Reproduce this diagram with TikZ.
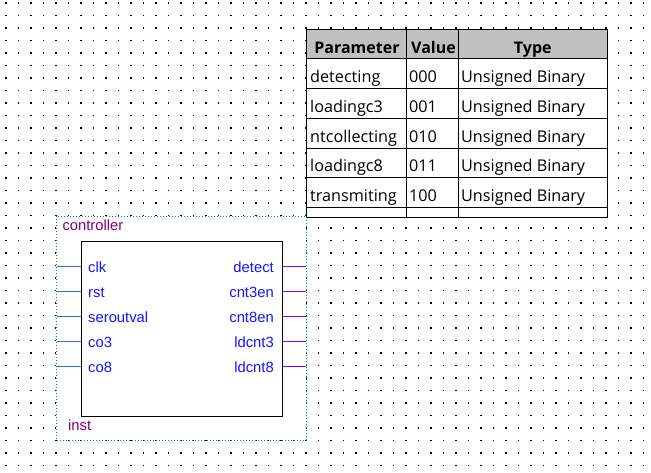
\documentclass[tikz,border=0pt]{standalone}
\usepackage{fontspec}
\setmainfont{Open Sans}
\newfontfamily\pinfont{Liberation Sans}
\usetikzlibrary{calc}
\definecolor{frameteal}{RGB}{0,128,128}
\definecolor{pinblue}{RGB}{30,120,220}
\definecolor{pinpurple}{RGB}{128,0,255}
\definecolor{labelblue}{RGB}{20,20,255}
\definecolor{instpurple}{RGB}{128,0,128}
\definecolor{headgray}{RGB}{192,192,192}
\tikzset{
	cell/.style={anchor=base west,inner sep=0pt,font=\fontsize{16.2}{19}\selectfont},
	headcell/.style={anchor=base,inner sep=0pt,font=\fontsize{16}{19}\selectfont\bfseries},
	pinlabel/.style={inner sep=0pt,text=labelblue,font=\pinfont\fontsize{14.8}{17}\selectfont},
	instlabel/.style={anchor=base west,inner sep=0pt,text=instpurple,font=\pinfont\fontsize{14.8}{17}\selectfont}
}

\begin{document}
\begin{tikzpicture}[x=1pt,y=-1pt]
        \useasboundingbox (0,0) rectangle (651,472);
        \foreach \i in {0,...,51}
            \foreach \j in {0,...,37}
                \fill ({5.4+12.5*\i},{3.6+12.5*\j}) rectangle ++(1.2,-1.2);
        \coordinate (tab_nw) at (306,29.3);
        \coordinate (tab_se) at (607.3,217.3);
        \filldraw[fill=white,line width=1pt] (tab_nw) rectangle (tab_se);
        \filldraw[fill=headgray,line width=1pt] (tab_nw) rectangle (607.3,58.3);
        \foreach \y in {88.3,118.3,148,177.7,207.3}
            \draw[line width=1pt] (306,\y) -- (607.3,\y);
        \draw[line width=1pt] (406.7,29.3) -- (406.7,217.3);
        \draw[line width=1pt] (458.3,29.3) -- (458.3,217.3);
        \node[headcell] (h_param) at (357,53) {Parameter};
        \node[headcell] (h_value) at (433.5,53) {Value};
        \node[headcell] (h_type) at (532.8,53) {Type};
        \foreach \name/\val [count=\k] in {detecting/000,loadingc3/001,ntcollecting/010,loadingc8/011,transmiting/100} {
            \node[cell] (p_\k) at (310,{52.5+29.85*\k}) {\name};
            \node[cell] (v_\k) at (409,{52.5+29.85*\k}) {\val};
            \node[cell] (t_\k) at (461,{52.5+29.85*\k}) {Unsigned Binary};
        }
        \filldraw[frameteal,fill=white,line width=1pt,dash pattern=on 1pt off 2pt] (56,216) rectangle (306,440);
        \node[draw,line width=1pt,minimum width=200.6pt,minimum height=175pt,inner sep=0pt] (ctrl) at (182,329.2) {};
        \node[instlabel] (inst_name) at (62.3,230.7) {controller};
        \node[instlabel] (inst_id) at (68,430) {inst};
        \foreach \pin [count=\k] in {clk,rst,seroutval,co3,co8} {
            \coordinate (\pin_in) at (56.5,{241.7+25*\k});
            \draw[pinblue,line width=1pt] (\pin_in) -- (\pin_in -| ctrl.west);
            \node[pinlabel,anchor=base west] (\pin_lbl) at (88,{247.5+25*\k}) {\pin};
        }
        \foreach \pin [count=\k] in {detect,cnt3en,cnt8en,ldcnt3,ldcnt8} {
            \coordinate (\pin_out) at (305.5,{241.7+25*\k});
            \draw[pinpurple,line width=1pt] (\pin_out -| ctrl.east) -- (\pin_out);
            \node[pinlabel,anchor=base east] (\pin_lbl) at (274,{247.5+25*\k}) {\pin};
        }
    \end{tikzpicture}
\end{document}
